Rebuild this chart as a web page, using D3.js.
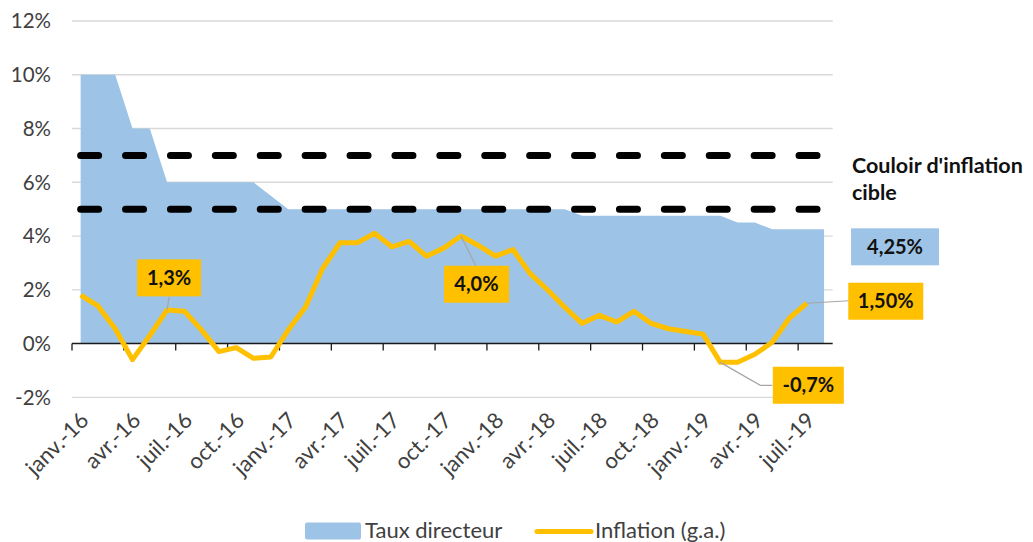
<!DOCTYPE html>
<html>
<head>
<meta charset="utf-8">
<script src="https://cdn.jsdelivr.net/npm/d3@7"></script>
<style>
  html, body { margin: 0; padding: 0; background: #fff; }
  svg { display: block; font-family: Lato, "Open Sans", sans-serif; }
</style>
</head>
<body>
<svg id="chart" width="1033" height="542"></svg>
<script>
// ---- DATA ----
const months = [
  "janv.-16","févr.-16","mars-16","avr.-16","mai-16","juin-16","juil.-16","août-16","sept.-16","oct.-16","nov.-16","déc.-16",
  "janv.-17","févr.-17","mars-17","avr.-17","mai-17","juin-17","juil.-17","août-17","sept.-17","oct.-17","nov.-17","déc.-17",
  "janv.-18","févr.-18","mars-18","avr.-18","mai-18","juin-18","juil.-18","août-18","sept.-18","oct.-18","nov.-18","déc.-18",
  "janv.-19","févr.-19","mars-19","avr.-19","mai-19","juin-19","juil.-19","août-19"
];
const tauxDirecteur = [
  10,10,10,8,8,6,6,6,6,6,6,5.5,
  5,5,5,5,5,5,5,5,5,5,5,5,
  5,5,5,5,5,4.75,4.75,4.75,4.75,4.75,4.75,4.75,
  4.75,4.75,4.5,4.5,4.25,4.25,4.25,4.25
];
const inflation = [
  1.8,1.4,0.55,-0.6,0.3,1.25,1.2,0.5,-0.3,-0.15,-0.55,-0.5,
  0.5,1.35,2.8,3.75,3.75,4.1,3.6,3.8,3.25,3.55,4.0,3.65,
  3.25,3.5,2.6,2.0,1.35,0.75,1.05,0.8,1.2,0.75,0.55,0.45,
  0.35,-0.7,-0.7,-0.4,0.05,0.95,1.5
];
const corridorHigh = 7;
const corridorLow = 5;
const yTicks = [-2,0,2,4,6,8,10,12];
const tickLabelEvery = 3;
const seriesNames = ["Taux directeur", "Inflation (g.a.)"];
const corridorLabel = ["Couloir d'inflation", "cible"];
// annotations: index into inflation, and label text
const inflationNotes = [
  {i: 5, text: "1,3%"},
  {i: 22, text: "4,0%"},
  {i: 37, text: "-0,7%"},
  {i: 42, text: "1,50%"}
];
const rateNote = {i: 43, text: "4,25%"};

// ---- STYLE ----
const blue = "#9DC3E6", gold = "#FFC000", textCol = "#404040", grid = "#D9D9D9";

const svg = d3.select("#chart");
const x = d3.scaleLinear().domain([0, months.length]).range([72, 832.7]);
const xc = i => x(i + 0.5);
const y = d3.scaleLinear().domain([-2, 12]).range([397.3, 21]);

// gridlines
svg.append("g").selectAll("line").data(yTicks.filter(t => t !== 0)).join("line")
  .attr("x1", x(0)).attr("x2", x(months.length))
  .attr("y1", d => y(d)).attr("y2", d => y(d))
  .attr("stroke", grid).attr("stroke-width", 1.3);

// y labels
svg.append("g").selectAll("text").data(yTicks).join("text")
  .attr("x", 51).attr("y", d => y(d)).attr("dy", "0.36em")
  .attr("text-anchor", "end").attr("fill", textCol)
  .style("font-size", "20.5px")
  .text(d => d + "%");

// area
const area = d3.area().x((d, i) => xc(i)).y0(y(0)).y1(d => y(d));
svg.append("path").datum(tauxDirecteur).attr("d", area).attr("fill", blue);

// corridor dashed lines
[corridorHigh, corridorLow].forEach(v => {
  const ln = d3.line().x((d, i) => xc(i)).y(() => y(v));
  svg.append("path").datum(months).attr("d", ln)
    .attr("fill", "none").attr("stroke", "#000").attr("stroke-width", 7)
    .attr("stroke-linecap", "round").attr("stroke-dasharray", "18 26.9");
});

// x axis
const axisG = svg.append("g");
axisG.append("line").attr("x1", x(0)).attr("x2", x(months.length))
  .attr("y1", y(0)).attr("y2", y(0)).attr("stroke", "#1a1a1a").attr("stroke-width", 1.5);
const tickIdx = d3.range(0, months.length, tickLabelEvery);
axisG.selectAll("line.tk").data(tickIdx).join("line").attr("class", "tk")
  .attr("x1", d => x(d)).attr("x2", d => x(d))
  .attr("y1", y(0)).attr("y2", y(0) + 7).attr("stroke", "#1a1a1a").attr("stroke-width", 1.3);
axisG.selectAll("text").data(tickIdx).join("text")
  .attr("transform", d => `translate(${xc(d) + 4},${y(-2) + 19}) rotate(-45)`)
  .attr("text-anchor", "end").attr("dy", "0.35em")
  .attr("fill", textCol).style("font-size", "22px")
  .text(d => months[d]);

// inflation line
const line = d3.line().x((d, i) => xc(i)).y(d => y(d));
svg.append("path").datum(inflation).attr("d", line)
  .attr("fill", "none").attr("stroke", gold).attr("stroke-width", 5)
  .attr("stroke-linejoin", "round");

// annotation boxes
function box(cx, top, w, text, fill) {
  const g = svg.append("g");
  g.append("rect").attr("x", cx - w / 2).attr("y", top).attr("width", w).attr("height", 37).attr("fill", fill);
  g.append("text").attr("x", cx).attr("y", top + 18.5).attr("dy", "0.36em")
    .attr("text-anchor", "middle").attr("fill", "#111").style("font-weight", "bold")
    .style("font-size", "20px").text(text);
}
function leader(pts) {
  svg.append("path").attr("d", d3.line()(pts)).attr("fill", "none")
    .attr("stroke", "#A6A6A6").attr("stroke-width", 1.2);
}
const P = k => [xc(k.i), y(inflation[k.i])];
{
  const [px, py] = P(inflationNotes[0]);
  leader([[px, py], [px + 2, py - 13]]);
  box(px + 2, py - 50.6, 64, inflationNotes[0].text, gold);
}
{
  const [px, py] = P(inflationNotes[1]);
  leader([[px, py], [px + 15, py + 30]]);
  box(px + 15.5, py + 29.7, 65, inflationNotes[1].text, gold);
}
{
  const [px, py] = P(inflationNotes[2]);
  leader([[px, py], [px + 40, py + 23], [px + 52, py + 23]]);
  box(px + 88, py + 4.4, 71, inflationNotes[2].text, gold);
}
{
  const [px, py] = P(inflationNotes[3]);
  leader([[px, py], [px + 42, py - 2.5]]);
  box(px + 79, py - 20.5, 75, inflationNotes[3].text, gold);
}
{
  const px = xc(rateNote.i), py = y(tauxDirecteur[rateNote.i]);
  box(px + 71, py - 1, 88, rateNote.text, blue);
}

// corridor label
svg.append("text").attr("x", 852).attr("y", 172.5).attr("fill", "#111")
  .style("font-weight", "bold").style("font-size", "21.5px")
  .selectAll("tspan").data(corridorLabel).join("tspan")
  .attr("x", 852).attr("dy", (d, i) => i === 0 ? 0 : 27.5).text(d => d);

// legend
const lg = svg.append("g");
lg.append("rect").attr("x", 305).attr("y", 522.5).attr("width", 56).attr("height", 17).attr("rx", 2).attr("fill", blue);
lg.append("text").attr("x", 365).attr("y", 538).attr("fill", textCol).style("font-size", "22px").text(seriesNames[0]);
lg.append("line").attr("x1", 537).attr("x2", 591).attr("y1", 531.5).attr("y2", 531.5)
  .attr("stroke", gold).attr("stroke-width", 5).attr("stroke-linecap", "round");
lg.append("text").attr("x", 595).attr("y", 538).attr("fill", textCol).style("font-size", "22px").text(seriesNames[1]);
</script>
</body>
</html>
